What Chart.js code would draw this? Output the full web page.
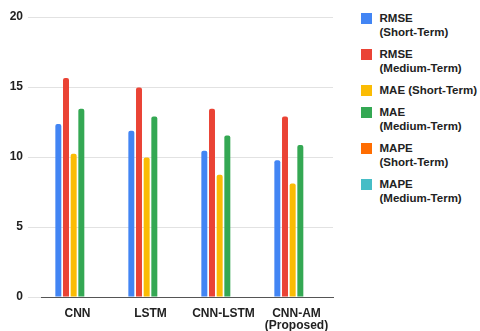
<!DOCTYPE html>
<html>
<head>
<meta charset="utf-8">
<script src="https://cdn.jsdelivr.net/npm/chart.js@4.4.1/dist/chart.umd.min.js"></script>
<style>
  body { margin: 0; background: #fff; font-family: "Liberation Sans", Arial, sans-serif; }
  #wrap { position: relative; width: 480px; height: 331px; }
  #box { position: absolute; left: 0; top: 0; width: 340px; height: 331px; }
  #legend { position: absolute; left: 361px; top: 10.7px; margin: 0; padding: 0; list-style: none; }
  #legend li { display: flex; align-items: flex-start; margin-bottom: 8px; }
  #legend i { display: block; width: 11px; height: 11px; margin-top: 2.6px; margin-right: 7.5px; flex: none; }
  #legend span { white-space: nowrap; font-weight: bold; font-size: 11.5px; line-height: 14px; color: #222; }
</style>
</head>
<body>
<div id="wrap">
  <div id="box"><canvas id="chart"></canvas></div>
  <ul id="legend"></ul>
</div>
<script>
// categories
var models = ['CNN', 'LSTM', 'CNN-LSTM', ['CNN-AM', '(Proposed)']];

// series values
var rmseShort  = [12.35, 11.88, 10.45, 9.76];
var rmseMedium = [15.64, 14.97, 13.45, 12.9];
var maeShort   = [10.24, 9.97, 8.74, 8.11];
var maeMedium  = [13.45, 12.9, 11.54, 10.86];
// MAPE bars are not drawn in the picture
var mapeShort  = [null, null, null, null];
var mapeMedium = [null, null, null, null];

// legend names, split the way the picture wraps them
var seriesNames = [['RMSE', '(Short-Term)'], ['RMSE', '(Medium-Term)'], ['MAE (Short-Term)'],
                   ['MAE', '(Medium-Term)'], ['MAPE', '(Short-Term)'], ['MAPE', '(Medium-Term)']];
var seriesColors = ['#4285F4', '#EA4335', '#FBBC04', '#34A853', '#FF6D01', '#46BDC6'];

var yTicks = [0, 5, 10, 15, 20];

var allValues = [rmseShort, rmseMedium, maeShort, maeMedium, mapeShort, mapeMedium];

var datasets = allValues.map(function (vals, i) {
  return {
    label: seriesNames[i].join(' '),
    data: vals,
    backgroundColor: seriesColors[i],
    borderRadius: { topLeft: 2, topRight: 2 },
    borderSkipped: 'bottom',
    categoryPercentage: 0.63,
    barPercentage: 0.78
  };
});

var tickFont = { family: '"Liberation Sans", Arial, sans-serif', size: 12, weight: 'bold', lineHeight: 1.05 };

var chart = new Chart(document.getElementById('chart'), {
  type: 'bar',
  data: { labels: models, datasets: datasets },
  options: {
    responsive: true,
    maintainAspectRatio: false,
    animation: false,
    layout: { padding: { top: 17, right: 7, left: 0, bottom: 0 } },
    plugins: { legend: { display: false }, tooltip: { enabled: false } },
    scales: {
      x: {
        grid: { display: false },
        border: { display: true, color: '#555', width: 1 },
        ticks: { color: '#222', font: tickFont, padding: 2, maxRotation: 0 },
        afterFit: function (s) { s.height = 34; }
      },
      y: {
        min: 0,
        max: 20,
        afterBuildTicks: function (s) { s.ticks = yTicks.map(function (v) { return { value: v }; }); },
        grid: { color: '#e2e2e2', tickLength: 13, tickColor: '#e2e2e2' },
        border: { display: false },
        ticks: { color: '#222', font: tickFont, padding: 5 },
        afterFit: function (s) { s.width = 41; }
      }
    }
  }
});

// html legend
var ul = document.getElementById('legend');
seriesNames.forEach(function (lines, i) {
  var li = document.createElement('li');
  li.innerHTML = '<i style="background:' + seriesColors[i] + '"></i><span>' + lines.join('<br>') + '</span>';
  ul.appendChild(li);
});
</script>
</body>
</html>
